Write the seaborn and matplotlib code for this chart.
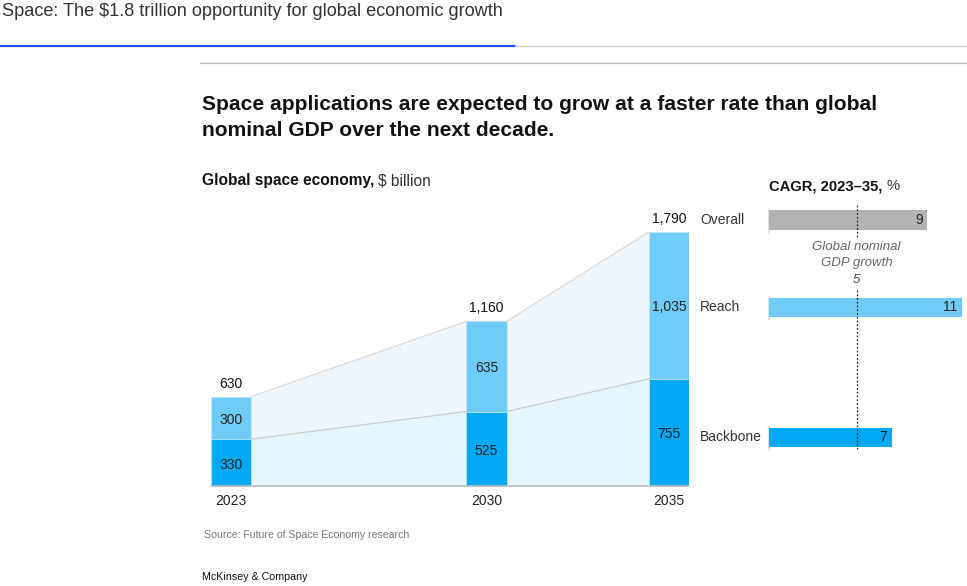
import matplotlib
matplotlib.use("Agg")
import matplotlib.pyplot as plt
import seaborn as sns
import numpy as np

# ---- data ----
years = [2023, 2030, 2035]
backbone = [330, 525, 755]
reach = [300, 635, 1035]
totals = [630, 1160, 1790]
total_labels = ["630", "1,160", "1,790"]
reach_labels = ["300", "635", "1,035"]
backbone_labels = ["330", "525", "755"]

cagr_cats = ["Overall", "Reach", "Backbone"]
cagr_vals = [9, 11, 7]
gdp_growth = 5

# ---- style ----
sns.set_theme(style="white")
plt.rcParams["font.family"] = ["Liberation Sans", "DejaVu Sans"]

REACH_C = "#6FCBF7"
BACK_C = "#00A9F4"
GREY_C = "#B3B3B3"
FILL_TOP = "#EEF7FD"
FILL_BOT = "#E4F5FD"
TXT = "#222222"

W, H = 967, 586
fig = plt.figure(figsize=(W / 100, H / 100), dpi=100)
fig.patch.set_facecolor("white")

def fx(px):
    return px / W

def fy(py):
    return 1 - py / H

# header
fig.text(fx(2), fy(12), "Space: The $1.8 trillion opportunity for global economic growth",
         fontsize=13.1, color="#333333", va="center", ha="left")
fig.add_artist(plt.Line2D([0, fx(515)], [fy(46), fy(46)], color="#2251FF", lw=1.6))
fig.add_artist(plt.Line2D([fx(515), 1], [fy(46), fy(46)], color="#D5D5D5", lw=1.0))
fig.add_artist(plt.Line2D([fx(200), 1], [fy(63), fy(63)], color="#BDBDBD", lw=0.9))

fig.text(fx(202), fy(105), "Space applications are expected to grow at a faster rate than global",
         fontsize=15.1, fontweight="bold", color="#111111", va="center", ha="left")
fig.text(fx(202), fy(131), "nominal GDP over the next decade.",
         fontsize=15.1, fontweight="bold", color="#111111", va="center", ha="left")

t1 = fig.text(fx(202), fy(181), "Global space economy,", fontsize=11.2, fontweight="bold",
              color="#111111", va="center", ha="left")
fig.canvas.draw()
bb = t1.get_window_extent()
fig.text(bb.x1 / W + fx(4), fy(181), "$ billion", fontsize=11.2, color="#333333",
         va="center", ha="left")

t2 = fig.text(fx(769), fy(186), "CAGR, 2023\u201335,", fontsize=10.6, fontweight="bold",
              color="#111111", va="center", ha="left")
fig.canvas.draw()
bb2 = t2.get_window_extent()
fig.text(bb2.x1 / W + fx(4), fy(186), "%", fontsize=10.6, color="#333333",
         va="center", ha="left")

fig.text(fx(204), fy(535), "Source: Future of Space Economy research", fontsize=7.6,
         color="#777777", va="center", ha="left")
fig.text(fx(202), fy(577), "McKinsey & Company", fontsize=7.7, color="#111111",
         va="center", ha="left")

# ---- main axes ----
base_px, top_px = 486, 232
px_per_unit = (base_px - top_px) / totals[-1]
ax = fig.add_axes([fx(211), fy(base_px), fx(689) - fx(211), (top_px - base_px) / -H])
bar_w_rel = 0.22
half = bar_w_rel * min(np.diff(years)) / 2

# connecting fills
xs, ytop, ybot = [], [], []
for i, yr in enumerate(years):
    xs += [yr - half, yr + half]
    ytop += [totals[i], totals[i]]
    ybot += [backbone[i], backbone[i]]
xs, ytop, ybot = xs[1:-1], ytop[1:-1], ybot[1:-1]
ax.fill_between(xs, ybot, ytop, color=FILL_TOP, lw=0, zorder=0)
ax.fill_between(xs, 0, ybot, color=FILL_BOT, lw=0, zorder=0)
ax.plot(xs, ytop, color="#D6D9DC", lw=0.9, zorder=1)
ax.plot(xs, ybot, color="#C9CCCF", lw=0.9, zorder=1)

sns.barplot(x=years, y=totals, native_scale=True, width=bar_w_rel, color=REACH_C,
            saturation=1, errorbar=None, edgecolor="#BFE6FA", linewidth=0.6, ax=ax, zorder=2)
sns.barplot(x=years, y=backbone, native_scale=True, width=bar_w_rel, color=BACK_C,
            saturation=1, errorbar=None, edgecolor="#BFE6FA", linewidth=0.6, ax=ax, zorder=3)

ax.set_xlim(years[0] - half, years[-1] + half)
ax.set_ylim(0, totals[-1])
ax.axis("off")
ax.plot([years[0] - half, years[-1] + half], [0, 0], color="#BBBBBB", lw=1.2,
        clip_on=False, zorder=4)

def u(px):
    """pixels -> data units on the shared y scale"""
    return px / px_per_unit

for i, yr in enumerate(years):
    ax.text(yr, backbone[i] / 2 - u(2), backbone_labels[i], ha="center", va="center",
            fontsize=10, color=TXT, zorder=5)
    ax.text(yr, backbone[i] + reach[i] / 2 - u(2), reach_labels[i], ha="center", va="center",
            fontsize=10, color=TXT, zorder=5)
    ax.text(yr, totals[i] + u(13), total_labels[i], ha="center", va="center",
            fontsize=10, color="#111111", clip_on=False)
    ax.text(yr, -u(15), str(yr), ha="center", va="center", fontsize=10, color=TXT,
            clip_on=False)

# row positions for CAGR derived from 2035 stack
row_y = [totals[-1] + u(12), backbone[-1] + reach[-1] / 2 - u(2), backbone[-1] / 2 - u(5)]
for cat, yv in zip(cagr_cats, row_y):
    ax.text(years[-1] + half + 0.3, yv, cat, ha="left", va="center", fontsize=10,
            color="#333333", clip_on=False)

# ---- CAGR axes ----
ax2 = fig.add_axes([fx(769), fy(base_px), fx(962) - fx(769), (top_px - base_px) / -H],
                   sharey=ax)
bar_h = u(19.5)
cols = [GREY_C, REACH_C, BACK_C]
bars = ax2.barh(row_y, cagr_vals, height=bar_h, color=cols, lw=0, zorder=2)
for b in bars:
    b.set_clip_on(False)
ax2.set_xlim(0, max(cagr_vals))
ax2.axis("off")
for yv, v in zip(row_y, cagr_vals):
    ax2.plot([0, 0], [yv - bar_h / 2 - u(3), yv + bar_h / 2 + u(1)], color="#DDDDDD",
             lw=1.2, clip_on=False, zorder=1)
    ax2.text(v - 0.25, yv, str(v), ha="right", va="center", fontsize=10, color=TXT,
             zorder=3, clip_on=False)

dot = dict(color="#222222", lw=0.9, ls=(0, (1.5, 1.5)), clip_on=False, zorder=4)
ax2.plot([gdp_growth, gdp_growth], [row_y[0] + u(15), row_y[0] - u(17)], **dot)
ax2.plot([gdp_growth, gdp_growth], [row_y[0] - u(70), row_y[2] - u(12)], **dot)
ax2.text(gdp_growth, row_y[0] - u(35), "Global nominal\nGDP growth", ha="center",
         va="center", fontsize=9.5, style="italic", color="#666666", linespacing=1.35,
         clip_on=False)
ax2.text(gdp_growth, row_y[0] - u(60), str(gdp_growth), ha="center", va="center",
         fontsize=9.5, style="italic", color="#444444", clip_on=False)

fig.savefig("out.png", dpi=100, facecolor="white")
